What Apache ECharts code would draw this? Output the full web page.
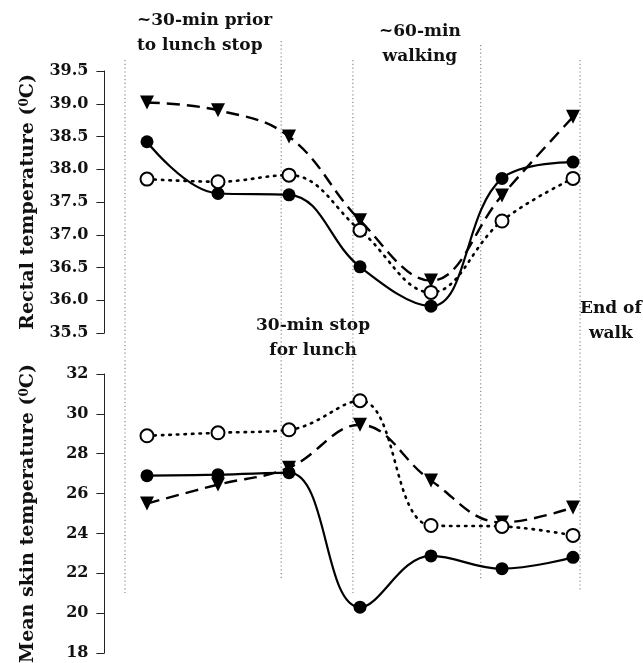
<!DOCTYPE html>
<html>
<head>
<meta charset="utf-8">
<script src="https://cdn.jsdelivr.net/npm/echarts@6/dist/echarts.min.js"></script>
<style>
  html, body { margin: 0; padding: 0; background: #fff; }
  #chart { width: 643px; height: 663px; }
</style>
</head>
<body>
<div id="chart"></div>
<script>
// Measurement time points (equally spaced along the walk protocol)
const timepoints = [0, 1, 2, 3, 4, 5, 6];

// Rectal temperature (°C)
const rectalFilled = [38.42, 37.63, 37.61, 36.51, 35.91, 37.86, 38.11];
const rectalTriangle = [39.02, 38.9, 38.5, 37.22, 36.3, 37.6, 38.8];
const rectalOpen = [37.85, 37.81, 37.91, 37.07, 36.12, 37.21, 37.86];

// Mean skin temperature (°C)
const skinFilled = [26.9, 26.95, 27.05, 20.3, 22.87, 22.23, 22.8];
const skinTriangle = [25.5, 26.45, 27.3, 29.45, 26.65, 24.55, 25.3];
const skinOpen = [28.9, 29.05, 29.2, 30.66, 24.4, 24.35, 23.9];

// Axis tick values
const rectalTicks = [35.5, 36.0, 36.5, 37.0, 37.5, 38.0, 38.5, 39.0, 39.5];
const skinTicks = [18, 20, 22, 24, 26, 28, 30, 32];

// Protocol event markers (position on the time axis)
const eventX = [-0.31, 1.89, 2.9, 4.7, 6.1];
// vertical extent of each marker line on the full-height guide axis
const eventTop = [60, 41, 60, 45, 60];
const eventBottom = [593, 578, 593, 580, 592];

const FONT = '"DejaVu Serif", "Liberation Serif", serif';
const X_MIN = -0.6, X_MAX = 6.4;
const GRID_LEFT = 104.4, GRID_WIDTH = 497;
const SMOOTH = 0.4;

const pair = (vals) => vals.map((v, i) => [timepoints[i], v]);

function styles(kind) {
  if (kind === 'filled') {
    return {
      symbol: 'circle', symbolSize: 13,
      itemStyle: { color: '#000' },
      lineStyle: { color: '#000', width: 2.2, type: 'solid' }
    };
  }
  if (kind === 'open') {
    return {
      symbol: 'emptyCircle', symbolSize: 13,
      itemStyle: { color: '#000', borderWidth: 1.2 },
      lineStyle: { color: '#000', width: 2.6, type: [1.5, 6], cap: 'round' }
    };
  }
  return {
    symbol: 'triangle', symbolSize: 14, symbolRotate: 180,
    itemStyle: { color: '#000' },
    lineStyle: { color: '#000', width: 2.4, type: [13, 7] }
  };
}

function lineSeries(name, vals, kind, g) {
  return Object.assign({
    name: name, type: 'line', xAxisIndex: g, yAxisIndex: g,
    data: pair(vals), smooth: SMOOTH, showAllSymbol: true, z: 3,
    emphasis: { disabled: true }, silent: true
  }, styles(kind));
}

const eventSeries = eventX.map((x, i) => ({
  type: 'line', xAxisIndex: 2, yAxisIndex: 2, silent: true,
  symbol: 'none', z: 1,
  data: [[x, eventTop[i]], [x, eventBottom[i]]],
  lineStyle: { color: '#8a8a8a', width: 1.2, type: [1.2, 2.6] }
}));

const yAxisCommon = {
  type: 'value',
  axisLine: { show: true, onZero: false, lineStyle: { color: '#222', width: 1 } },
  axisTick: { show: true, length: 8, inside: false, lineStyle: { color: '#222' } },
  splitLine: { show: false },
  nameLocation: 'middle',
  nameRotate: 90,
  nameGap: 66,
  axisLabel: { fontFamily: FONT, fontWeight: 'bold', fontSize: 16, color: '#111', margin: 16 }
};

const nameStyle = {
  fontFamily: FONT, fontWeight: 'bold', fontSize: 19, color: '#111',
  rich: { sup: { fontFamily: FONT, fontWeight: 'bold', fontSize: 12, color: '#111', verticalAlign: 'top', padding: [0, 0, 8, 0] } }
};

const chart = echarts.init(document.getElementById('chart'), null, { renderer: 'canvas' });

function annot(lines, x, y, align) {
  return {
    type: 'text', left: x, top: y, silent: true,
    style: {
      text: lines.join('\n'), fontFamily: FONT, fontWeight: 'bold', fontSize: 17,
      fill: '#111', textAlign: align, lineHeight: 25
    }
  };
}

const gridBase = { left: GRID_LEFT, width: GRID_WIDTH, containLabel: false, outerBoundsMode: 'none' };

chart.setOption({
  animation: false,
  backgroundColor: '#fff',
  grid: [
    Object.assign({}, gridBase, { top: 71, height: 262 }),
    Object.assign({}, gridBase, { top: 374, height: 279 }),
    Object.assign({}, gridBase, { top: 0, height: 663 })
  ],
  xAxis: [0, 1, 2].map(g => ({ type: 'value', gridIndex: g, min: X_MIN, max: X_MAX, show: false })),
  yAxis: [
    Object.assign({}, yAxisCommon, {
      gridIndex: 0, min: rectalTicks[0], max: rectalTicks[rectalTicks.length - 1], interval: 0.5,
      name: 'Rectal temperature ({sup|0}C)', nameTextStyle: nameStyle,
      axisLabel: Object.assign({}, yAxisCommon.axisLabel, { formatter: v => v.toFixed(1) })
    }),
    Object.assign({}, yAxisCommon, {
      gridIndex: 1, min: skinTicks[0], max: skinTicks[skinTicks.length - 1], interval: 2,
      name: 'Mean skin temperature ({sup|0}C)', nameTextStyle: nameStyle
    }),
    { type: 'value', gridIndex: 2, min: 0, max: 663, inverse: true, show: false }
  ],
  graphic: [
    annot(['~30-min prior', 'to lunch stop'], 137, 8, 'left'),
    annot(['~60-min', 'walking'], 379, 19, 'center'),
    annot(['30-min stop', 'for lunch'], 256, 313, 'center'),
    annot(['End of', 'walk'], 580, 296, 'center')
  ],
  series: [
    ...eventSeries,
    lineSeries('Rectal filled', rectalFilled, 'filled', 0),
    lineSeries('Rectal triangle', rectalTriangle, 'triangle', 0),
    lineSeries('Rectal open', rectalOpen, 'open', 0),
    lineSeries('Skin filled', skinFilled, 'filled', 1),
    lineSeries('Skin triangle', skinTriangle, 'triangle', 1),
    lineSeries('Skin open', skinOpen, 'open', 1)
  ]
});
</script>
</body>
</html>
